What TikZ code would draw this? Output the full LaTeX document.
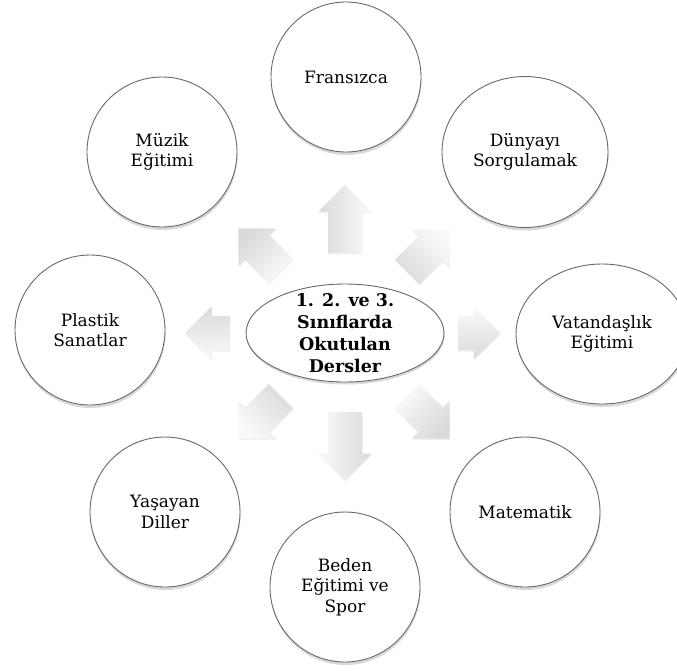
\documentclass[tikz,border=0pt]{standalone}
\usepackage{fontspec}
\setmainfont{DejaVu Serif}
\usepackage{tikz}
\usetikzlibrary{calc,shapes.geometric,shapes.arrows,shadows}
\definecolor{kenargri}{RGB}{105,105,105}
\definecolor{okacik}{RGB}{250,250,250}
\definecolor{okkoyu}{RGB}{218,218,218}

\tikzset{
  ders/.style={circle,draw=kenargri,line width=0.9pt,fill=white,minimum size=150pt,
    inner sep=2pt,align=center,font=\fontsize{17}{20.5}\selectfont,
    drop shadow={shadow xshift=0.5pt,shadow yshift=-3pt,opacity=0.3}},
  merkez/.style={ellipse,draw=kenargri,line width=0.9pt,fill=white,
    minimum width=198pt,minimum height=98pt,
    drop shadow={shadow xshift=0.5pt,shadow yshift=-2.5pt,opacity=0.3}},
  merkezyazi/.style={align=center,inner sep=0pt,font=\bfseries\fontsize{17.5}{22}\selectfont},
  okstil/.style={single arrow,draw=none,minimum width=53pt,single arrow head extend=9.5pt,
    inner xsep=0pt,inner ysep=17pt,anchor=tail,top color=okacik,bottom color=okkoyu,
    drop shadow={shadow xshift=0.5pt,shadow yshift=-1.5pt,opacity=0.12}}
}

\begin{document}
\begin{tikzpicture}[x=1pt,y=-1pt]
\useasboundingbox (0,0) rectangle (677,670);
% Merkez
\coordinate (orta) at (345,333);
% Oklar
\foreach \ad/\aci/\golge/\dx/\dy/\boy in {yukari/90/-90/0/-80/68, asagi/-90/90/0/79/68,
    sol/180/180/-115/0/45, sag/0/0/113/0/42,
    solust/135/-135/-64/-62/60, sagust/45/-45/62/-61/60,
    solalt/-135/135/-64/63/60, sagalt/-45/45/62/63/60}
  \node[okstil,rotate=\aci,shading angle=\golge,minimum height=\boy pt] (ok\ad) at ($(orta)+(\dx,\dy)$) {};
\node[merkez] (merkez) at (orta) {};
\node[merkezyazi] (baslik) at (merkez) {1. 2. ve 3.\\Sınıflarda\\Okutulan\\Dersler};
% Dersler
\node[ders] (fransizca) at (346,77) {Fransızca};
\node[ders,ellipse,minimum width=166pt,minimum height=151pt] (dunyayi) at (525,152) {Dünyayı\\Sorgulamak};
\node[ders,ellipse,minimum width=172pt,minimum height=140pt] (vatandaslik) at (602,334) {Vatandaşlık\\Eğitimi};
\node[ders] (matematik) at (525,512) {Matematik};
\node[ders] (beden) at (345,587) {Beden\\Eğitimi ve\\Spor};
\node[ders] (yasayan) at (165,512) {Yaşayan\\Diller};
\node[ders] (plastik) at (90,330) {Plastik\\Sanatlar};
\node[ders] (muzik) at (162,152) {Müzik\\Eğitimi};
\end{tikzpicture}
\end{document}
